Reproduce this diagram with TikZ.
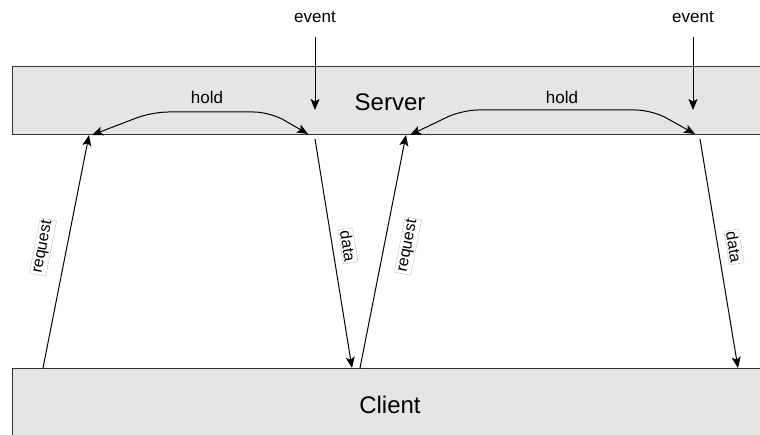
\documentclass[tikz,border=0pt]{standalone}
\usepackage{fontspec}
\setmainfont{Liberation Sans}
\usetikzlibrary{arrows.meta}
\begin{document}
\begin{tikzpicture}[x=1pt,y=-1pt,
  box/.style={draw=black!80, line width=1.3pt, fill=black!10, inner sep=0pt, font=\fontsize{24}{28}\selectfont},
  tip/.style={Stealth[length=11pt,width=9pt,inset=2.5pt]},
  conn/.style={line width=1pt, -{Stealth[length=11pt,width=9pt,inset=2.5pt]}},
  holdline/.style={line width=1pt, rounded corners=16pt, {Stealth[length=11pt,width=9pt,inset=2.5pt]}-{Stealth[length=11pt,width=9pt,inset=2.5pt]}},
  lbl/.style={fill=white, draw=black!25, line width=0.4pt, inner sep=1.5pt, font=\fontsize{16}{18}\selectfont},
  txt/.style={font=\fontsize{17}{19}\selectfont, inner sep=1pt}]
\useasboundingbox (0,0) rectangle (760,435);
\clip (0,0) rectangle (760,435);
% boxes
\node[box, anchor=north west, minimum width=756pt, minimum height=68pt] (server) at (12,66) {};
\node[font=\fontsize{24}{28}\selectfont] (servertext) at (390,102) {Server};
\node[box, anchor=north west, minimum width=756pt, minimum height=74pt] (client) at (12,368) {};
\node[font=\fontsize{24}{28}\selectfont] (clienttext) at (390,405) {Client};
% coordinates
\coordinate (r1s) at (43,368);  \coordinate (r1e) at (89,135);
\coordinate (d1s) at (315,139); \coordinate (d1e) at (352,368);
\coordinate (r2s) at (360,368); \coordinate (r2e) at (406,135);
\coordinate (d2s) at (700,139); \coordinate (d2e) at (738,368);
\coordinate (h1r) at (308,134); \coordinate (h1l) at (92,135);
\coordinate (h2r) at (695,134); \coordinate (h2l) at (410,135);
\coordinate (e1s) at (315,37);  \coordinate (e1e) at (315,110);
\coordinate (e2s) at (693,37);  \coordinate (e2e) at (693,110);
% request / data
\draw[conn] (r1s) -- (r1e);
\draw[conn] (d1s) -- (d1e);
\draw[conn] (r2s) -- (r2e);
\draw[conn] (d2s) -- (d2e);
% hold
\draw[holdline] (h1r) -- (270,112) -- (152,112) -- (h1l);
\draw[holdline] (h2r) -- (652,110) -- (462,110) -- (h2l);
\node[txt] (hold1) at (207,97) {hold};
\node[txt] (hold2) at (562,97) {hold};
% events
\node[txt] (ev1) at (315,17) {event};
\node[txt] (ev2) at (693,17) {event};
\draw[conn] (e1s) -- (e1e);
\draw[conn] (e2s) -- (e2e);
% edge labels
\node[lbl, rotate=79] (lr1) at (43,247) {request};
\node[lbl, rotate=-81] (ld1) at (348,246) {data};
\node[lbl, rotate=79] (lr2) at (408,246) {request};
\node[lbl, rotate=-80.5] (ld2) at (734,247) {data};
\end{tikzpicture}
\end{document}
